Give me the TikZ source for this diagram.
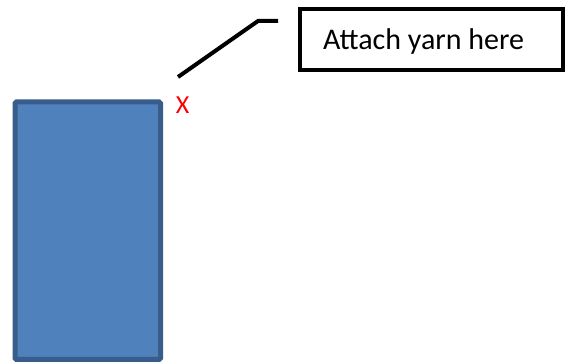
\documentclass[tikz,border=0pt]{standalone}
\usepackage{fontspec}
\setmainfont{Carlito}
\usepackage{tikz}
\usetikzlibrary{positioning}
\definecolor{partfill}{HTML}{4F81BD}
\definecolor{partedge}{HTML}{385D8A}
\begin{document}
\begin{tikzpicture}[x=1pt,y=-1pt,
		part/.style={draw=partedge, fill=partfill, line width=5pt, rounded corners=1.5pt},
		callout/.style={draw, line width=4pt, minimum width=263pt, minimum height=60.5pt,
		text width=217pt, inner xsep=23pt, inner ysep=0pt, text height=19pt, text depth=0pt,
		align=flush left, font=\fontsize{30}{34}\selectfont},
		leader/.style={line width=4pt},
		cross/.style={text=red, inner sep=0pt, font=\fontsize{26}{30}\selectfont}]
		\useasboundingbox (0,0) rectangle (568,363);
		\draw[part] (15,102) rectangle (160.5,359.5);
		\node[cross] (x) at (182.5,105.5) {X};
		\node[callout] (note) at (431.5,39.75) {Attach yarn here};
		\coordinate (tip) at (178,77);
		\coordinate (bend) at (258,21);
		\coordinate (tail) at (278,21);
		\draw[leader] (tip) -- (bend) -- (tail);
	\end{tikzpicture}
\end{document}
